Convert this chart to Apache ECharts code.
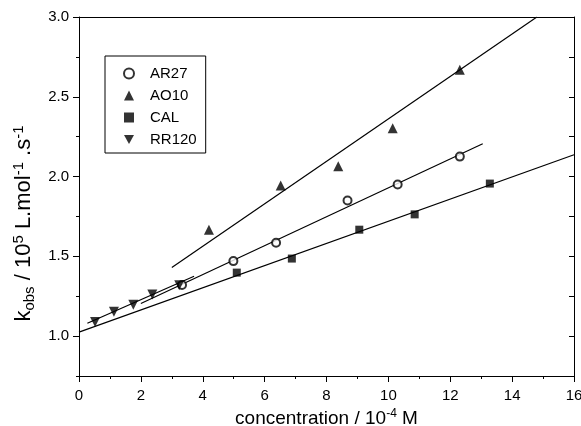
<!DOCTYPE html>
<html>
<head>
<meta charset="utf-8">
<script src="https://cdn.jsdelivr.net/npm/echarts@6/dist/echarts.min.js"></script>
<style>
html,body{margin:0;padding:0;background:#fff;}
#chart{width:581px;height:426px;}
</style>
</head>
<body>
<div id="chart"></div>
<script>
// ---- data ----
var ar27X = [3.33, 4.99, 6.37, 8.68, 10.30, 12.31];
var ar27Y = [1.32, 1.47, 1.585, 1.85, 1.95, 2.125];
var ao10X = [4.20, 6.52, 8.38, 10.14, 12.31];
var ao10Y = [1.667, 1.944, 2.064, 2.302, 2.669];
var calX = [5.10, 6.88, 9.06, 10.85, 13.28];
var calY = [1.398, 1.486, 1.667, 1.763, 1.956];
var rr120X = [0.52, 1.13, 1.755, 2.37, 3.24];
var rr120Y = [1.089, 1.152, 1.196, 1.261, 1.319];
// fitted lines (endpoints)
var ar27FitX = [2.0, 13.05];
var ar27FitY = [1.204, 2.206];
var ao10FitX = [3.0, 14.8];
var ao10FitY = [1.43, 3.0];
var calFitX = [0, 16];
var calFitY = [1.025, 2.137];
var rr120FitX = [0.27, 3.72];
var rr120FitY = [1.081, 1.375];
// ticks
var xMin = 0, xMax = 16, xStep = 2;
var yMin = 0.75, yMax = 3.0;
var yMajor = [1.0, 1.5, 2.0, 2.5, 3.0];
var yMinor = [0.75, 1.25, 1.75, 2.25, 2.75];
var legendNames = ['AR27', 'AO10', 'CAL', 'RR120'];

function pairs(xs, ys) { return xs.map(function (x, i) { return [x, ys[i]]; }); }

var FONT = 'Liberation Sans, Arial, sans-serif';
var downTri = 'path://M0,0 L10,0 L5,9 Z';

var chart = echarts.init(document.getElementById('chart'), null, {renderer: 'canvas'});
var lineStyle = {color: '#000', width: 1.2};

var option = {
  backgroundColor: '#fff',
  animation: false,
  grid: {left: 79, right: 7, top: 17, bottom: 50, containLabel: false, outerBoundsMode: 'none'},
  legend: {
    orient: 'vertical',
    left: 105, top: 56,
    padding: [10, 9, 6, 18],
    itemGap: 7,
    itemWidth: 10, itemHeight: 10,
    borderColor: '#000', borderWidth: 1,
    formatter: function (name) { return '{g| }{t|' + name + '}'; },
    textStyle: {fontFamily: FONT, fontSize: 15, color: '#000',
      rich: {g: {width: 11, fontSize: 15}, t: {fontFamily: FONT, fontSize: 15, color: '#000'}}},
    data: legendNames
  },
  xAxis: [{
    type: 'value', position: 'bottom', min: xMin, max: xMax, interval: xStep,
    axisLine: {show: true, onZero: false, lineStyle: {color: '#000', width: 1}},
    axisTick: {show: true, inside: false, length: 6, lineStyle: {color: '#000'}},
    minorTick: {show: true, splitNumber: 2, length: 3, lineStyle: {color: '#000'}},
    splitLine: {show: false},
    axisLabel: {fontFamily: FONT, fontSize: 15, color: '#000', margin: 12},
    name: '{m|concentration / 10}{sup|-4}{m| M}',
    nameLocation: 'middle', nameGap: 26,
    nameTextStyle: {
      fontFamily: FONT, fontSize: 19, color: '#000',
      rich: {
        m: {fontFamily: FONT, fontSize: 19, color: '#000', lineHeight: 22},
        sup: {fontFamily: FONT, fontSize: 12, color: '#000', verticalAlign: 'top', lineHeight: 12}
      }
    }
  }, {
    type: 'value', position: 'top', min: xMin, max: xMax, interval: xStep,
    axisLine: {show: true, onZero: false, lineStyle: {color: '#000', width: 1}},
    axisTick: {show: false}, axisLabel: {show: false}, splitLine: {show: false}
  }],
  yAxis: [{
    type: 'value', position: 'left', min: yMin, max: yMax,
    axisLine: {show: true, onZero: false, lineStyle: {color: '#000', width: 1}},
    axisTick: {show: true, inside: false, length: 6, customValues: yMajor, lineStyle: {color: '#000'}},
    axisLabel: {fontFamily: FONT, fontSize: 15, color: '#000', margin: 10, customValues: yMajor,
      formatter: function (v) { return v.toFixed(1); }},
    splitLine: {show: false},
    name: '{m|k}{sub|obs}{m| / 10}{sup|5}{m| L.mol}{sup|-1}{m| .s}{sup|-1}',
    nameLocation: 'middle', nameGap: 37, nameRotate: 90,
    nameTextStyle: {
      fontFamily: FONT, fontSize: 22, color: '#000', padding: [0, 54, 0, 0],
      rich: {
        m: {fontFamily: FONT, fontSize: 22, color: '#000', lineHeight: 26},
        sup: {fontFamily: FONT, fontSize: 15, color: '#000', verticalAlign: 'top', lineHeight: 15},
        sub: {fontFamily: FONT, fontSize: 15, color: '#000', verticalAlign: 'bottom', lineHeight: 15}
      }
    }
  }, {
    type: 'value', position: 'left', min: yMin, max: yMax,
    axisLine: {show: false},
    axisTick: {show: true, inside: false, length: 3, customValues: yMinor, lineStyle: {color: '#000'}},
    axisLabel: {show: false}, splitLine: {show: false}
  }, {
    type: 'value', position: 'right', min: yMin, max: yMax, interval: 0.25,
    axisLine: {show: true, onZero: false, lineStyle: {color: '#000', width: 1}},
    axisTick: {show: true, inside: true, length: 5, lineStyle: {color: '#000'}},
    axisLabel: {show: false}, splitLine: {show: false}
  }],
  series: [
    {name: 'fitCAL', type: 'line', data: pairs(calFitX, calFitY), symbol: 'none', lineStyle: lineStyle, z: 1, silent: true},
    {name: 'fitAR27', type: 'line', data: pairs(ar27FitX, ar27FitY), symbol: 'none', lineStyle: lineStyle, z: 1, silent: true},
    {name: 'fitAO10', type: 'line', data: pairs(ao10FitX, ao10FitY), symbol: 'none', lineStyle: lineStyle, z: 1, silent: true},
    {name: 'fitRR120', type: 'line', data: pairs(rr120FitX, rr120FitY), symbol: 'none', lineStyle: lineStyle, z: 1, silent: true},
    {name: 'AR27', type: 'scatter', data: pairs(ar27X, ar27Y), symbol: 'emptyCircle', symbolSize: 8,
      itemStyle: {color: '#000', borderColor: '#000', borderWidth: 1}, z: 3},
    {name: 'AO10', type: 'scatter', data: pairs(ao10X, ao10Y), symbol: 'triangle', symbolSize: 10,
      itemStyle: {color: '#000'}, z: 3},
    {name: 'CAL', type: 'scatter', data: pairs(calX, calY), symbol: 'rect', symbolSize: 8,
      itemStyle: {color: '#000'}, z: 3},
    {name: 'RR120', type: 'scatter', data: pairs(rr120X, rr120Y), symbol: downTri, symbolSize: 10,
      itemStyle: {color: '#000'}, z: 3}
  ]
};
chart.setOption(option);
</script>
</body>
</html>
